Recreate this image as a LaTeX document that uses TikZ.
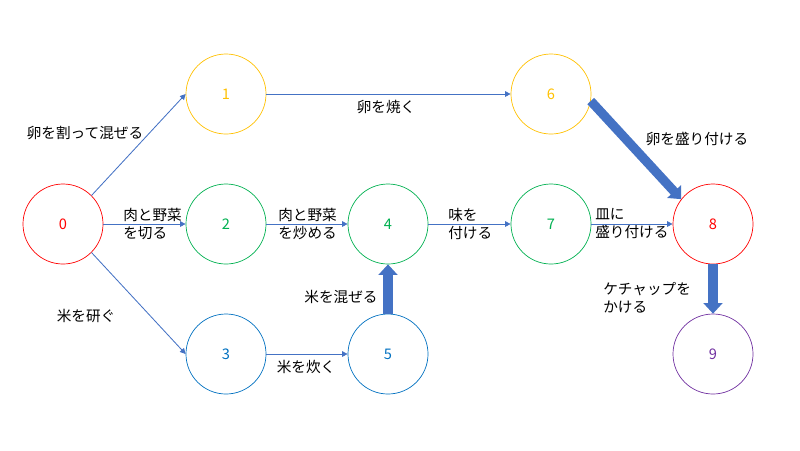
\documentclass[tikz,border=0pt]{standalone}
\usepackage{fontspec}
\setmainfont{Noto Sans CJK JP}
\usetikzlibrary{arrows.meta}
\definecolor{cred}{HTML}{FF0000}
\definecolor{cyellow}{HTML}{FFC000}
\definecolor{cgreen}{HTML}{00B050}
\definecolor{cblue}{HTML}{0070C0}
\definecolor{cpurple}{HTML}{7030A0}
\definecolor{arrowblue}{HTML}{4472C4}
\begin{document}
\begin{tikzpicture}
  [x=0.025cm,y=-0.025cm,
   every node/.style={font=\fontsize{10.4}{12.8}\selectfont},
   circ/.style={circle,draw,minimum size=2cm,inner sep=0pt,line width=0.5pt},
   lbl/.style={inner sep=0pt,align=left},
   flow/.style={-{Triangle[length=4pt,width=4pt]},draw=arrowblue,line width=0.6pt},
   bigflow/.style={-{Triangle[length=0.26cm,width=0.46cm]},draw=arrowblue,line width=0.23cm}]
  \useasboundingbox (0,0) rectangle (800,450);
  \node[circ,draw=cred,text=cred] (n0) at (63,224) {0};
  \node[circ,draw=cyellow,text=cyellow] (n1) at (226,94) {1};
  \node[circ,draw=cgreen,text=cgreen] (n2) at (226,224) {2};
  \node[circ,draw=cblue,text=cblue] (n3) at (226,354) {3};
  \node[circ,draw=cgreen,text=cgreen] (n4) at (388,224) {4};
  \node[circ,draw=cblue,text=cblue] (n5) at (388,354) {5};
  \node[circ,draw=cyellow,text=cyellow] (n6) at (551,94) {6};
  \node[circ,draw=cgreen,text=cgreen] (n7) at (551,224) {7};
  \node[circ,draw=cred,text=cred] (n8) at (713,224) {8};
  \node[circ,draw=cpurple,text=cpurple] (n9) at (713,354) {9};

  \node[lbl] (l01) at (85,133) {卵を割って混ぜる};
  \node[lbl,anchor=west] (l02) at (123,224) {肉と野菜\\を切る};
  \node[lbl] (l03) at (86,316) {米を研ぐ};
  \node[lbl] (l16) at (386,107) {卵を焼く};
  \node[lbl,anchor=west] (l24) at (278,224) {肉と野菜\\を炒める};
  \node[lbl,anchor=west] (l47) at (448,224) {味を\\付ける};
  \node[lbl,anchor=west] (l78) at (595,224) {皿に\\盛り付ける};
  \node[lbl] (l68) at (697,139) {卵を盛り付ける};
  \node[lbl,anchor=west] (l89) at (603,298) {ケチャップを\\かける};
  \node[lbl] (l54) at (341,297) {米を混ぜる};
  \node[lbl] (l35) at (306,367) {米を炊く};

  \foreach \from/\to in {n1/n6,n0/n2,n2/n4,n4/n7,n7/n8,n3/n5}
    \draw[flow] (\from) -- (\to);
  \draw[flow] (n0.north east) -- (n1.west);
  \draw[flow] (n0.south east) -- (n3.west);
  \foreach \from/\to in {n5.north/n4.south,n8.south/n9.north,n6.-10/n8.142}
    \draw[bigflow] (\from) -- (\to);
\end{tikzpicture}
\end{document}
